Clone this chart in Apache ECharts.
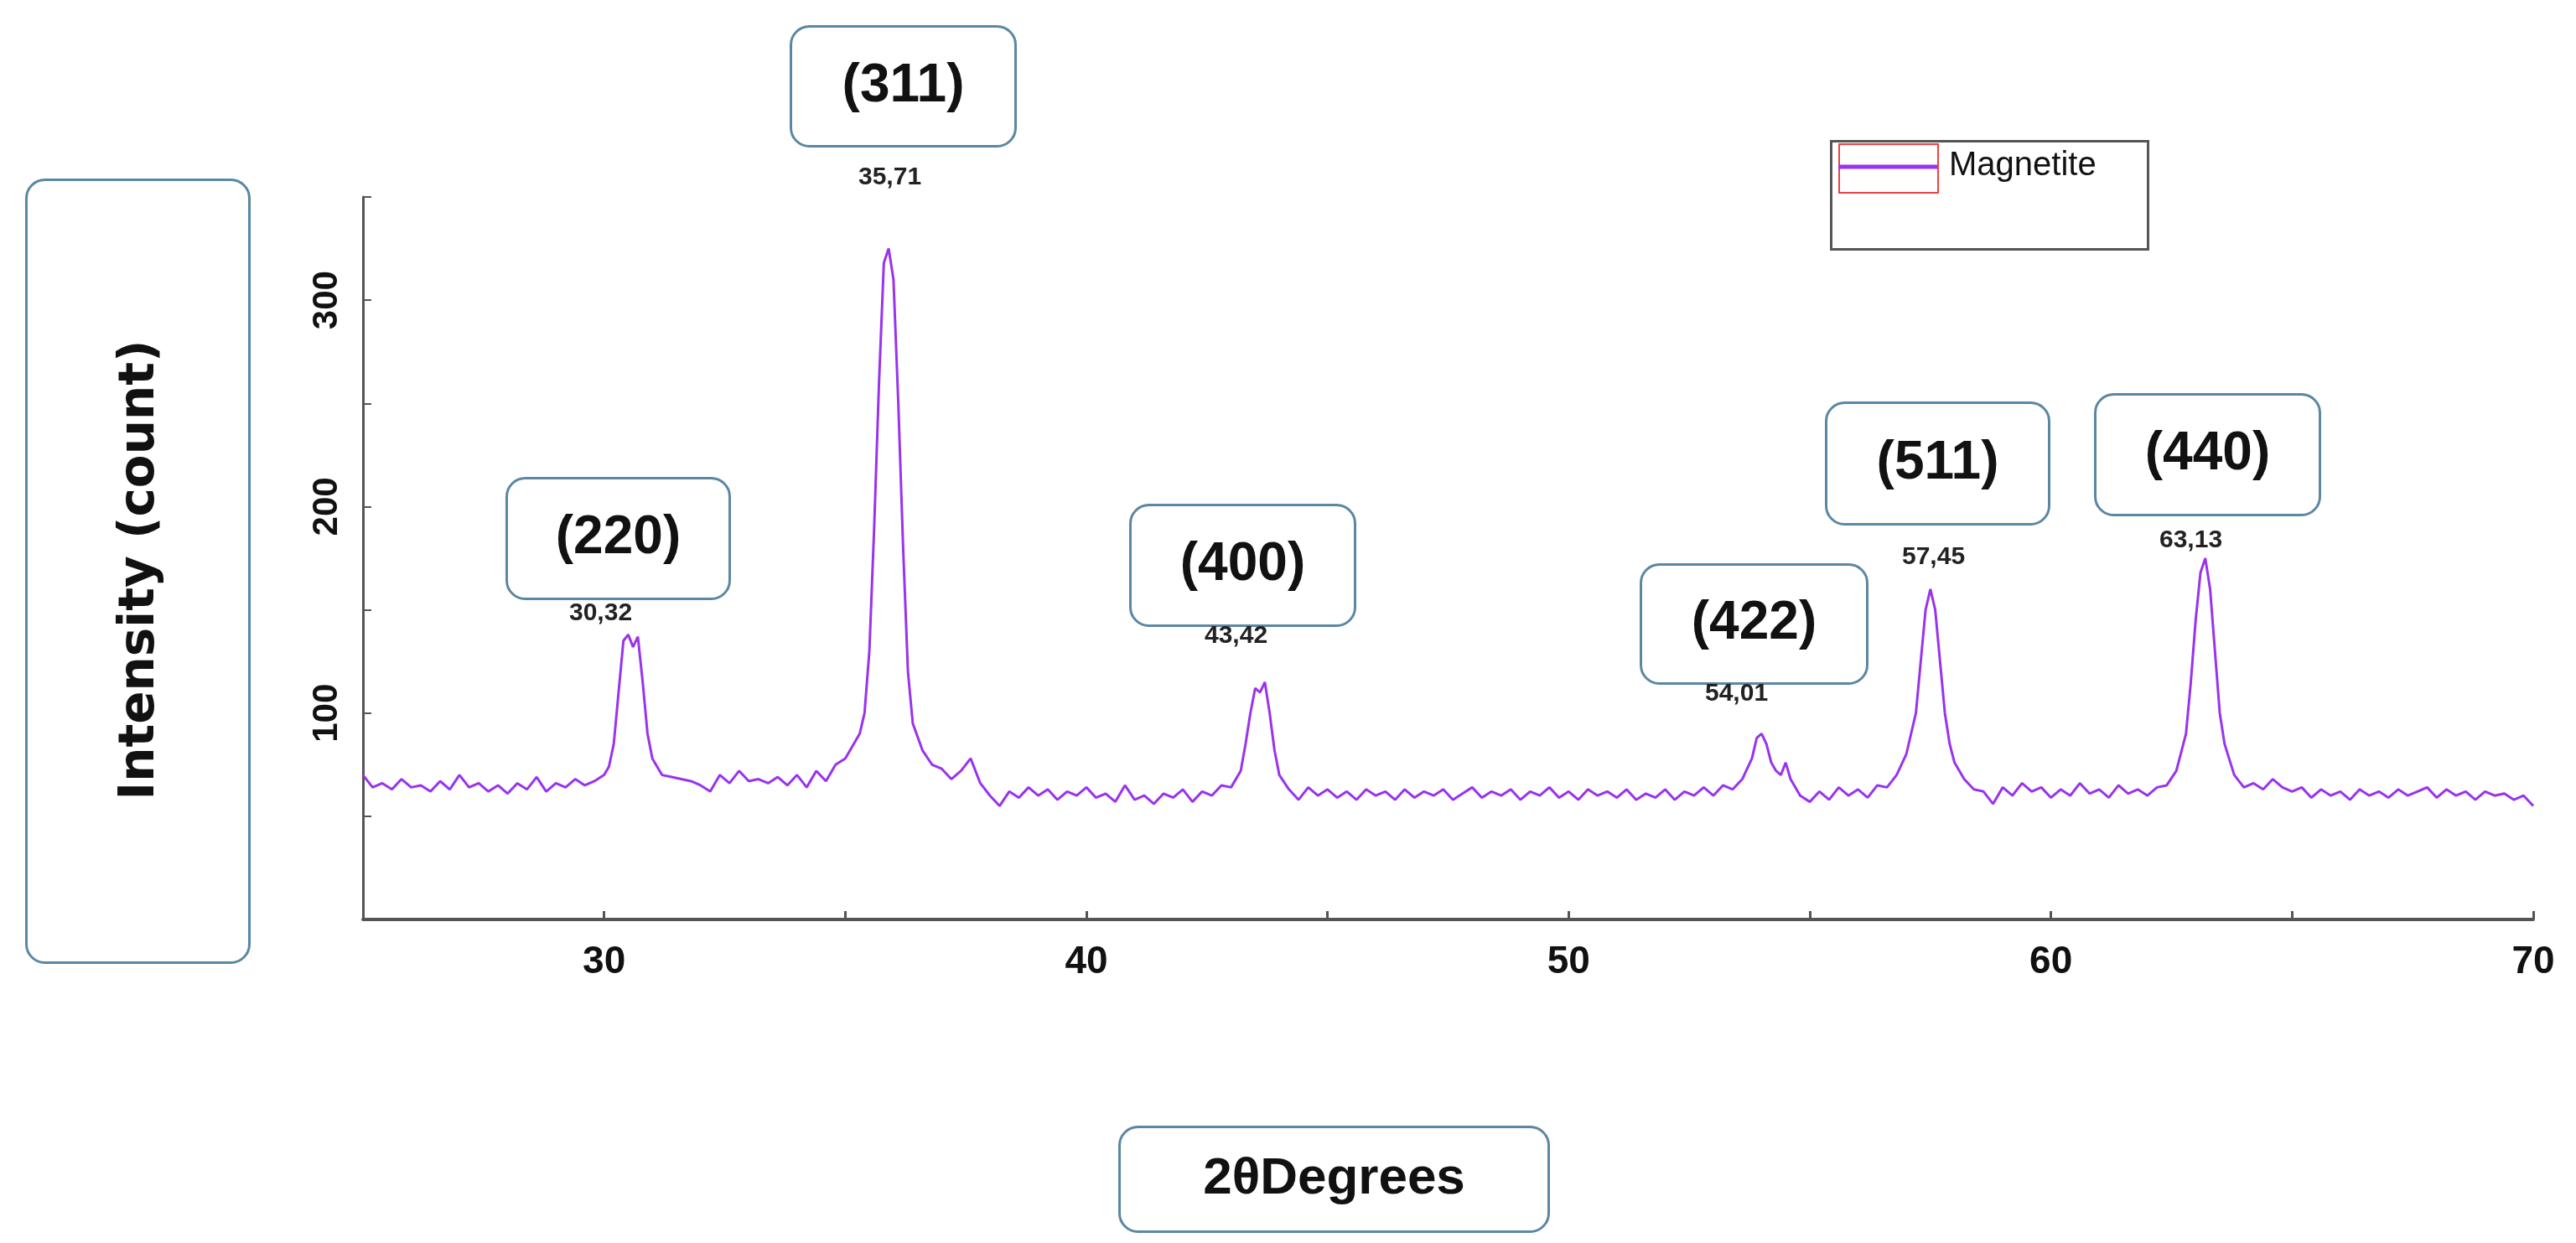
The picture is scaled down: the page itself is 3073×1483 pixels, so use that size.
<!DOCTYPE html>
<html>
<head>
<meta charset="utf-8">
<script src="https://cdn.jsdelivr.net/npm/echarts@6/dist/echarts.min.js"></script>
<style>
  html, body { margin: 0; padding: 0; background: #fff; }
  #chart { width: 3073px; height: 1483px; }
</style>
</head>
<body>
<div id="chart"></div>
<script>
const twoTheta = [
  25.0, 25.2, 25.4, 25.6, 25.8, 26.0, 26.2, 26.4, 26.6, 26.8, 27.0, 27.2, 27.4, 27.6, 27.8, 28.0, 28.2, 28.4, 28.6, 28.8,
  29.0, 29.2, 29.4, 29.6, 29.8, 30.0, 30.1, 30.2, 30.3, 30.4, 30.5, 30.6, 30.7, 30.8, 30.9, 31.0, 31.2, 31.4, 31.6, 31.8,
  32.0, 32.2, 32.4, 32.6, 32.8, 33.0, 33.2, 33.4, 33.6, 33.8, 34.0, 34.2, 34.4, 34.6, 34.8, 35.0, 35.2, 35.3, 35.4, 35.5,
  35.6, 35.7, 35.8, 35.9, 36.0, 36.1, 36.2, 36.3, 36.4, 36.6, 36.8, 37.0, 37.2, 37.4, 37.6, 37.8, 38.0, 38.2, 38.4, 38.6,
  38.8, 39.0, 39.2, 39.4, 39.6, 39.8, 40.0, 40.2, 40.4, 40.6, 40.8, 41.0, 41.2, 41.4, 41.6, 41.8, 42.0, 42.2, 42.4, 42.6,
  42.8, 43.0, 43.2, 43.3, 43.4, 43.5, 43.6, 43.7, 43.8, 43.9, 44.0, 44.2, 44.4, 44.6, 44.8, 45.0, 45.2, 45.4, 45.6, 45.8,
  46.0, 46.2, 46.4, 46.6, 46.8, 47.0, 47.2, 47.4, 47.6, 47.8, 48.0, 48.2, 48.4, 48.6, 48.8, 49.0, 49.2, 49.4, 49.6, 49.8,
  50.0, 50.2, 50.4, 50.6, 50.8, 51.0, 51.2, 51.4, 51.6, 51.8, 52.0, 52.2, 52.4, 52.6, 52.8, 53.0, 53.2, 53.4, 53.6, 53.8,
  53.9, 54.0, 54.1, 54.2, 54.3, 54.4, 54.5, 54.6, 54.8, 55.0, 55.2, 55.4, 55.6, 55.8, 56.0, 56.2, 56.4, 56.6, 56.8, 57.0,
  57.2, 57.3, 57.4, 57.5, 57.6, 57.7, 57.8, 57.9, 58.0, 58.2, 58.4, 58.6, 58.8, 59.0, 59.2, 59.4, 59.6, 59.8, 60.0, 60.2,
  60.4, 60.6, 60.8, 61.0, 61.2, 61.4, 61.6, 61.8, 62.0, 62.2, 62.4, 62.6, 62.8, 62.9, 63.0, 63.1, 63.2, 63.3, 63.4, 63.5,
  63.6, 63.8, 64.0, 64.2, 64.4, 64.6, 64.8, 65.0, 65.2, 65.4, 65.6, 65.8, 66.0, 66.2, 66.4, 66.6, 66.8, 67.0, 67.2, 67.4,
  67.6, 67.8, 68.0, 68.2, 68.4, 68.6, 68.8, 69.0, 69.2, 69.4, 69.6, 69.8, 70.0
]
const intensity = [
  70, 64, 66, 63, 68, 64, 65, 62, 67, 63, 70, 64, 66, 62, 65, 61, 66, 63, 69, 62,
  66, 64, 68, 65, 67, 70, 74, 85, 110, 135, 138, 132, 137, 115, 90, 78, 70, 69, 68, 67,
  65, 62, 70, 66, 72, 67, 68, 66, 69, 65, 70, 64, 72, 67, 75, 78, 86, 90, 100, 130,
  190, 260, 318, 325, 310, 250, 180, 120, 95, 82, 75, 73, 68, 72, 78, 66, 60, 55, 62, 59,
  64, 60, 63, 58, 62, 60, 64, 59, 61, 57, 65, 58, 60, 56, 61, 59, 63, 57, 62, 60,
  65, 64, 72, 85, 100, 112, 110, 115, 100, 82, 70, 63, 58, 64, 60, 63, 59, 62, 58, 63,
  60, 62, 58, 63, 59, 62, 60, 63, 58, 61, 64, 59, 62, 60, 63, 58, 62, 60, 64, 59,
  62, 58, 63, 60, 62, 59, 63, 58, 61, 59, 63, 58, 62, 60, 64, 60, 65, 63, 68, 78,
  88, 90, 85, 76, 72, 70, 76, 68, 60, 57, 62, 58, 64, 60, 63, 59, 65, 64, 70, 80,
  100, 125, 150, 160, 150, 125, 100, 85, 76, 68, 63, 62, 56, 64, 60, 66, 62, 64, 59, 63,
  60, 66, 61, 63, 59, 65, 61, 63, 60, 64, 65, 72, 90, 115, 145, 168, 175, 160, 130, 100,
  85, 70, 64, 66, 63, 68, 64, 62, 64, 59, 63, 60, 62, 58, 63, 60, 62, 59, 63, 60,
  62, 64, 59, 63, 60, 62, 58, 62, 60, 61, 58, 60, 55
]
const xTicks = [30, 40, 50, 60, 70]
const yTicks = [100, 200, 300]

const font = '"Liberation Sans", Arial, sans-serif'
const boxBorder = '#5b87a3'
const purple = '#9933ee'

// rounded label box with centred bold text
function box(x, y, w, h, text, size) {
  return {
    type: 'group', left: x, top: y,
    children: [
      { type: 'rect', shape: { width: w, height: h, r: 22 }, style: { fill: '#fff', stroke: boxBorder, lineWidth: 3 } },
      { type: 'text', x: w / 2, y: h / 2, style: { text: text, font: 'bold ' + size + 'px ' + font, fill: '#111', align: 'center', verticalAlign: 'middle' } }
    ]
  }
}
function small(x, y, text) {
  return { type: 'text', left: x - 50, top: y - 16, style: { text: text, font: 'bold 30px ' + font, fill: '#222', width: 100, align: 'center' } }
}

let chart = echarts.init(document.getElementById('chart'))
chart.setOption({
  backgroundColor: '#fff',
  animation: false,
  grid: { left: 433, right: 51, top: 235, bottom: 386 },
  xAxis: {
    type: 'value', min: 25, max: 70, interval: 5,
    axisLine: { lineStyle: { color: '#555', width: 4 } },
    axisTick: { lineStyle: { color: '#555', width: 3 }, length: 10, inside: true },
    splitLine: { show: false },
    axisLabel: {
      margin: 28, fontFamily: font, fontWeight: 'bold', fontSize: 46, color: '#111',
      formatter: v => xTicks.includes(v) ? String(v) : '', showMinLabel: false
    }
  },
  yAxis: {
    type: 'value', min: 0, max: 350, interval: 50,
    axisLine: { show: true, lineStyle: { color: '#555', width: 3 } },
    axisTick: { show: true, lineStyle: { color: '#555', width: 2 }, length: 10, inside: true },
    splitLine: { show: false },
    axisLabel: {
      rotate: 90, margin: 22, fontFamily: font, fontWeight: 'bold', fontSize: 42, color: '#111',
      formatter: v => yTicks.includes(v) ? String(v) : ''
    }
  },
  series: [{
    name: 'Magnetite',
    type: 'line',
    data: twoTheta.map((x, i) => [x, intensity[i]]),
    showSymbol: false,
    lineStyle: { color: purple, width: 3 },
    itemStyle: { color: purple }
  }],
  graphic: [
    // legend box
    { type: 'rect', left: 2183, top: 167, shape: { width: 378, height: 129 }, style: { fill: '#fff', stroke: '#555', lineWidth: 3 }, z: 1 },
    { type: 'rect', left: 2193, top: 171, shape: { width: 118, height: 26 }, style: { fill: '#fff', stroke: '#f04040', lineWidth: 2 }, z: 2 },
    { type: 'rect', left: 2193, top: 197, shape: { width: 118, height: 32 }, style: { fill: '#fff', stroke: '#f04040', lineWidth: 2 }, z: 2 },
    { type: 'line', shape: { x1: 2193, y1: 199, x2: 2311, y2: 199 }, style: { stroke: purple, lineWidth: 5 }, z: 3 },
    { type: 'text', left: 2325, top: 178, z: 3, style: { text: 'Magnetite', font: '40px ' + font, fill: '#111' } },
    // axis titles
    box(30, 213, 266, 934, '', 60),
    { type: 'text', x: 168, y: 680, rotation: Math.PI / 2,
      style: { text: 'Intensity (count)', font: 'bold 58px "DejaVu Sans", sans-serif', fill: '#111', align: 'center', verticalAlign: 'middle' } },
    box(1334, 1343, 512, 125, '2θDegrees', 62),
    // peak labels
    box(942, 30, 268, 143, '(311)', 64),
    box(603, 569, 266, 144, '(220)', 64),
    box(1347, 601, 268, 144, '(400)', 64),
    box(1956, 672, 270, 142, '(422)', 64),
    box(2177, 479, 266, 145, '(511)', 64),
    box(2498, 469, 268, 144, '(440)', 64),
    small(1074, 213, '35,71'),
    small(729, 733, '30,32'),
    small(1487, 760, '43,42'),
    small(2084, 829, '54,01'),
    small(2319, 666, '57,45'),
    small(2626, 646, '63,13')
  ]
})
</script>
</body>
</html>
